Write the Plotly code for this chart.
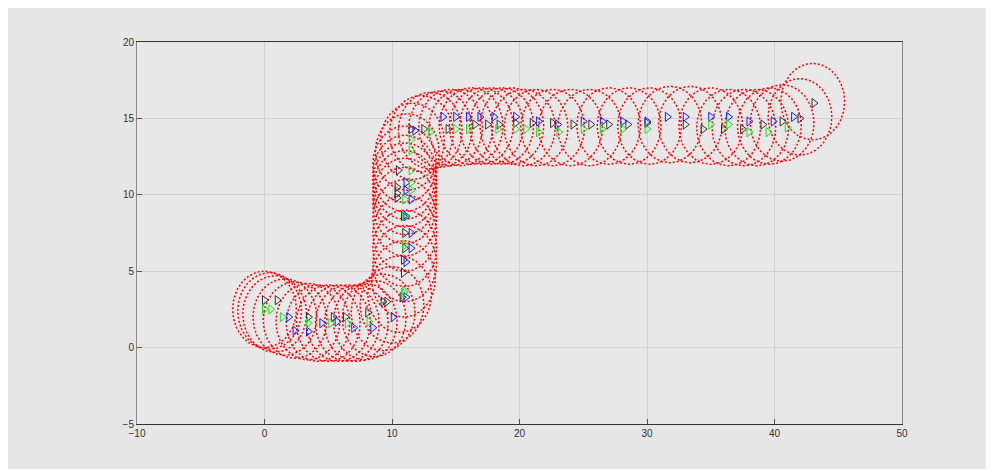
import numpy as np
import plotly.graph_objects as go

# Formation circle centres (data units) and radius
circle_x = [0, 0.4, 0.8, 1.6, 2.4, 3.4, 4.2, 5.0, 5.8, 6.5, 7.2, 7.9, 8.6, 9.3, 10.0,
            10.6, 10.9, 11.0, 11.0, 11.0, 11.0, 11.0, 11.0, 11.0, 11.0, 11.0, 11.0, 11.2, 11.6,
            12.3, 13.0, 13.8, 14.6, 15.4, 16.2, 17.0, 17.8, 18.6, 19.4, 20.3, 21.3, 22.6, 24.0,
            25.5, 27.0, 28.6, 30.2, 31.8, 33.4, 35.0, 36.4, 37.6, 38.6, 39.6, 40.6, 42.0, 43.0]
circle_y = [2.5, 2.4, 2.2, 2.0, 1.8, 1.7, 1.6, 1.6, 1.6, 1.6, 1.6, 1.7, 1.9, 2.3, 2.8,
            3.5, 4.5, 5.5, 6.5, 7.5, 8.5, 9.3, 9.9, 10.4, 10.9, 11.4, 12.0, 12.8, 13.5,
            14.0, 14.2, 14.3, 14.4, 14.4, 14.5, 14.5, 14.5, 14.5, 14.5, 14.4, 14.4, 14.4, 14.4,
            14.4, 14.5, 14.5, 14.5, 14.6, 14.6, 14.5, 14.4, 14.4, 14.4, 14.5, 14.7, 15.1, 16.1]
circle_r = 2.5

# Agent positions
black_x = [0, 1.0, 3.45, 5.4, 6.35, 8.1, 9.3, 9.6, 10.8, 10.9, 10.9, 11.0, 11.0, 10.9,
           10.4, 10.4, 10.4, 10.5, 11.5, 12.5, 14.4, 16.5, 17.5, 18.4, 19.7, 21.0, 22.6,
           24.2, 25.6, 27.0, 28.5, 30.0, 33.0, 34.4, 36.0, 37.5, 39.1, 40.6, 42.0, 43.1]
black_y = [3.1, 3.1, 2.0, 2.0, 2.0, 2.3, 3.0, 3.0, 3.3, 4.9, 5.75, 6.5, 7.5, 8.6,
           9.8, 10.1, 10.5, 11.6, 14.3, 14.3, 14.3, 14.6, 14.6, 14.6, 14.7, 14.7, 14.7,
           14.6, 14.6, 14.6, 14.6, 14.7, 14.6, 14.3, 14.3, 14.3, 14.6, 14.8, 15.0, 16.0]

blue_x = [1.9, 2.4, 3.45, 4.5, 5.7, 7.0, 8.5, 10.1, 11.1, 11.1, 11.5, 11.5, 11.1, 11.5,
          11.1, 11.1, 11.8, 14.0, 15.0, 16.0, 16.9, 18.0, 19.7, 21.5, 23.0, 25.0, 26.5,
          28.1, 30.0, 31.6, 33.0, 35.0, 36.4, 38.0, 39.9, 41.5]
blue_y = [2.0, 1.1, 1.05, 1.6, 1.7, 1.3, 1.3, 2.0, 3.3, 5.6, 6.5, 7.5, 8.6, 9.7,
          10.3, 10.8, 14.2, 15.1, 15.1, 15.1, 15.1, 15.1, 15.1, 14.8, 14.6, 14.8, 14.8,
          14.8, 14.8, 15.1, 15.1, 15.1, 15.1, 14.8, 14.8, 15.1]

green_x = [0, 0.5, 1.4, 3.45, 5.2, 6.5, 8.2, 10.9, 11.0, 11.0, 11.0, 11.0, 11.5, 11.5,
           11.5, 11.5, 11.5, 13.0, 15.0, 16.0, 18.3, 19.7, 20.5, 21.5, 23.1, 25.0, 26.5,
           28.1, 30.0, 35.0, 36.4, 38.0, 39.5, 41.0]
green_y = [2.5, 2.5, 2.0, 1.6, 1.6, 1.6, 1.7, 3.6, 3.7, 6.7, 8.6, 9.7, 10.3, 10.8,
           11.6, 12.9, 13.6, 14.1, 14.3, 14.3, 14.3, 14.3, 14.3, 14.1, 14.1, 14.3, 14.3,
           14.3, 14.3, 14.6, 14.6, 14.1, 14.1, 14.4]

x_ticks = [-10, 0, 10, 20, 30, 40, 50]
y_ticks = [-5, 0, 5, 10, 15, 20]

fig = go.Figure()

theta = np.linspace(0, 2 * np.pi, 120)
for cx, cy in zip(circle_x, circle_y):
    fig.add_trace(go.Scatter(
        x=cx + circle_r * np.cos(theta), y=cy + circle_r * np.sin(theta),
        mode="lines", line=dict(color="rgb(255,0,0)", width=1.5, dash="2px,2px"),
        hoverinfo="skip", showlegend=False))

for xs, ys, col in [(black_x, black_y, "#333333"), (blue_x, blue_y, "#1a1aff"),
                    (green_x, green_y, "#22dd22")]:
    fig.add_trace(go.Scatter(
        x=xs, y=ys, mode="markers",
        marker=dict(symbol="triangle-right-open", size=8, color=col, line=dict(width=1, color=col)),
        showlegend=False))

axis_common = dict(showgrid=True, gridcolor="#d2d2d2", gridwidth=1, zeroline=False,
                   showline=True, mirror=True, linecolor="#8a8a8a", linewidth=1,
                   ticks="inside", ticklen=5, tickcolor="#555555",
                   tickfont=dict(family="Liberation Sans, Arial", size=10, color="#333333"))

fig.update_layout(
    width=994, height=469,
    margin=dict(l=129, r=100, t=34, b=53),
    paper_bgcolor="#e6e6e6", plot_bgcolor="#e8e8e8",
    xaxis=dict(range=[-10, 50], tickvals=x_ticks, **axis_common),
    yaxis=dict(range=[-5, 20], tickvals=y_ticks, **axis_common),
)
fig.update_xaxes(linecolor="#333333")

fig.write_html("out.html")
